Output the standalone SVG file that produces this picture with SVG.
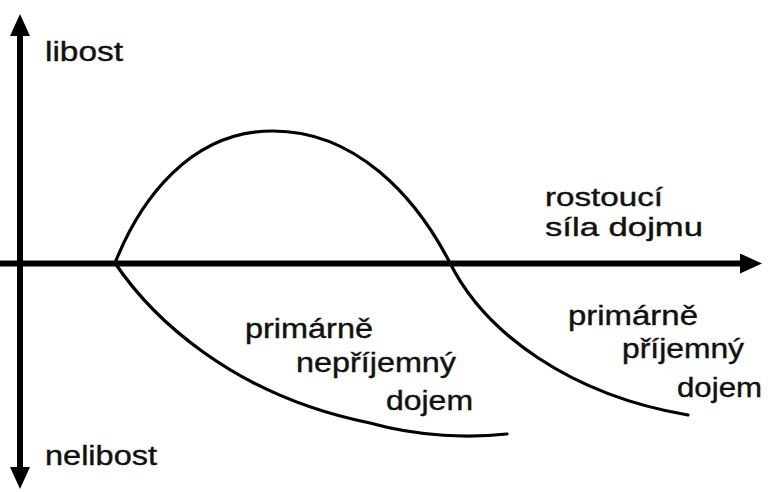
<svg xmlns="http://www.w3.org/2000/svg" width="768" height="492" viewBox="0 0 768 492">
  <style>
    .axis { stroke: #000; stroke-width: 6; fill: none; }
    .curve { stroke: #000; stroke-width: 3.2; fill: none; stroke-linecap: round; }
    .lbl { font-family: "Liberation Sans", Arial, sans-serif; font-size: 27px; fill: #111; stroke: #111; stroke-width: 0.4; }
    .sm { font-size: 26px; }
  </style>
  <defs>
    <marker id="arrow" markerUnits="userSpaceOnUse" markerWidth="24" markerHeight="22" refX="2" refY="10" orient="auto-start-reverse">
      <path d="M0,0 L22,10 L0,20 z" fill="#000"/>
    </marker>
  </defs>
  <rect width="768" height="492" fill="#fff"/>
  <g id="axes">
    <line class="axis" x1="20" y1="34" x2="20" y2="469" marker-start="url(#arrow)" marker-end="url(#arrow)"/>
    <line class="axis" x1="0" y1="263.5" x2="742" y2="263.5" stroke-width="5" marker-end="url(#arrow)"/>
  </g>
  <g id="curves">
    <path id="curve-upper" class="curve" d="M115,263 C140,200 190,131 273,131 C355,131 415,195 450,263 C485,333 570,395 688,415"/>
    <path id="curve-lower" class="curve" d="M115,263 C150,315 230,395 370,423 C420,437 470,438 507,434"/>
  </g>
  <g id="label-libost"><text class="lbl" x="45" y="61" textLength="78" lengthAdjust="spacingAndGlyphs">libost</text></g>
  <g id="label-nelibost"><text class="lbl" x="45" y="465" textLength="112" lengthAdjust="spacingAndGlyphs">nelibost</text></g>
  <g id="label-sila"><text class="lbl sm" x="545" y="206" textLength="118" lengthAdjust="spacingAndGlyphs">rostoucí</text><text class="lbl sm" x="545" y="236" textLength="158" lengthAdjust="spacingAndGlyphs">síla dojmu</text></g>
  <g id="label-neprijemny"><text class="lbl" x="245" y="338" textLength="128" lengthAdjust="spacingAndGlyphs">primárně</text><text class="lbl" x="296" y="372" textLength="160" lengthAdjust="spacingAndGlyphs">nepříjemný</text><text class="lbl" x="386" y="410" textLength="87" lengthAdjust="spacingAndGlyphs">dojem</text></g>
  <g id="label-prijemny"><text class="lbl" x="568" y="325" textLength="130" lengthAdjust="spacingAndGlyphs">primárně</text><text class="lbl" x="622" y="358" textLength="122" lengthAdjust="spacingAndGlyphs">příjemný</text><text class="lbl" x="677" y="397" textLength="85" lengthAdjust="spacingAndGlyphs">dojem</text></g>
</svg>
